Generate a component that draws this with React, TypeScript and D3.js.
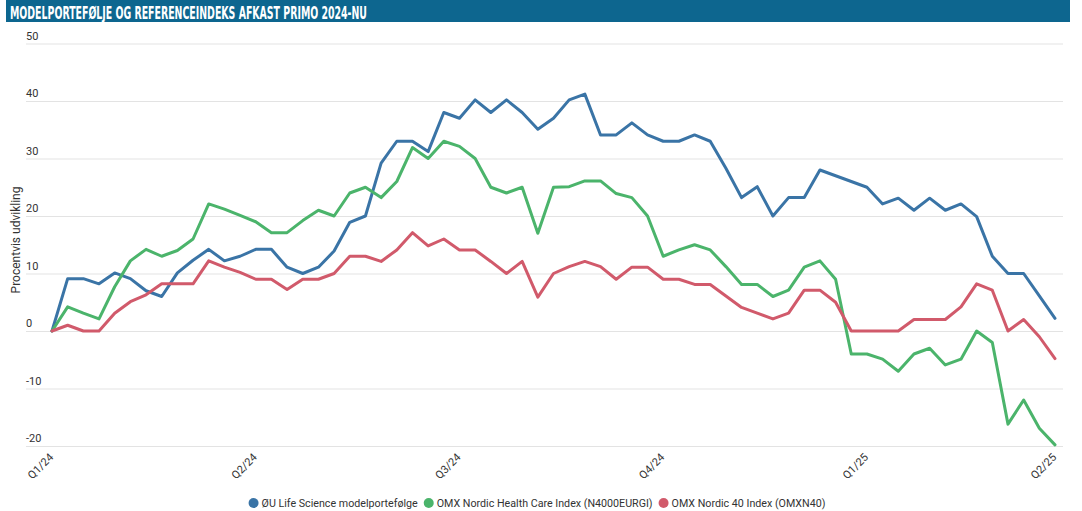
import * as d3 from 'd3';
import React, { useEffect, useRef } from 'react';

// weekly observations, Q1/24 -> Q2/25 (percent change since start)
const blueValues = [
  0, 9.1, 9.1, 8.2, 10.1, 9.1, 7.0, 6.0, 10.1, 12.3,
  14.2, 12.2, 13.0, 14.2, 14.2, 11.1, 10.0, 11.1, 13.9, 18.9,
  20.0, 29.2, 33.0, 33.0, 31.2, 38.0, 37.0, 40.2, 38.0, 40.2,
  38.0, 35.1, 37.0, 40.2, 41.2, 34.1, 34.1, 36.2, 34.1, 33.0,
  33.0, 34.1, 33.0, 28.3, 23.2, 25.1, 20.0, 23.2, 23.2, 28.0,
  27.0, 26.0, 25.0, 22.1, 23.1, 21.0, 23.1, 21.0, 22.1, 19.9,
  13.0, 10.0, 10.0, 6.1, 2.2,
];
const greenValues = [
  0, 4.2, 3.1, 2.1, 7.7, 12.2, 14.2, 13.0, 14.0, 16.0,
  22.1, 21.2, 20.1, 19.0, 17.1, 17.1, 19.2, 21.0, 20.0, 24.0,
  25.0, 23.2, 26.0, 31.9, 30.0, 33.0, 32.1, 30.0, 25.0, 24.0,
  25.0, 17.0, 25.0, 25.1, 26.1, 26.1, 23.9, 23.2, 20.0, 13.0,
  14.1, 15.0, 14.1, 11.2, 8.1, 8.1, 6.0, 7.1, 11.1, 12.2,
  9.0, -4.0, -4.0, -4.9, -7.0, -4.0, -3.0, -5.9, -4.9, 0,
  -2.0, -16.2, -12.0, -16.9, -19.8,
];
const redValues = [
  0, 1.0, 0, 0, 3.1, 5.1, 6.3, 8.2, 8.2, 8.2,
  12.2, 11.1, 10.2, 9.0, 9.0, 7.2, 9.0, 9.0, 10.0, 13.0,
  13.0, 12.1, 14.1, 17.1, 14.8, 16.0, 14.1, 14.1, 12.1, 10.0,
  12.1, 5.9, 10.0, 11.2, 12.1, 11.2, 9.0, 11.1, 11.1, 9.0,
  9.0, 8.1, 8.1, 6.1, 4.1, 3.1, 2.1, 3.1, 7.1, 7.1,
  5.0, 0, 0, 0, 0, 2.0, 2.0, 2.0, 4.2, 8.2,
  7.1, 0, 2.0, -1.0, -4.8,
];

const seriesNames = [
  'ØU Life Science modelportefølge',
  'OMX Nordic Health Care Index (N4000EURGI)',
  'OMX Nordic 40 Index (OMXN40)',
];
const seriesColors = ['#3a74a6', '#4bb46b', '#d15a6b'];

const quarterIndex = [0, 13, 26, 39, 52, 64];
const quarterLabels = ['Q1/24', 'Q2/24', 'Q3/24', 'Q4/24', 'Q1/25', 'Q2/25'];
const yTicks = [50, 40, 30, 20, 10, 0, -10, -20];

const title = 'MODELPORTEFØLJE OG REFERENCEINDEKS AFKAST PRIMO 2024-NU';
const yTitle = 'Procentvis udvikling';

const width = 1082;
const height = 511;

export default function App() {
  const node = useRef<SVGSVGElement>(null);

  useEffect(() => {
    const svg = d3.select(node.current);
    svg.selectAll('*').remove();

    const font = 'Roboto, "Noto Sans", sans-serif';

    const x = d3.scaleLinear().domain([0, blueValues.length - 1]).range([52, 1055]);
    const y = d3.scaleLinear().domain([-20, 50]).range([446, 43.5]);

    // header bar
    svg.append('rect')
      .attr('x', 6).attr('y', 0)
      .attr('width', 1064).attr('height', 22)
      .attr('fill', '#0d668f');
    svg.append('text')
      .attr('x', 10).attr('y', 18.5)
      .attr('fill', '#fff')
      .attr('font-family', '"Liberation Sans Narrow", "DejaVu Sans Condensed", sans-serif')
      .attr('font-weight', 'bold')
      .attr('font-size', 18)
      .attr('textLength', 357)
      .attr('lengthAdjust', 'spacingAndGlyphs')
      .text(title);

    // grid + y labels
    const grid = svg.append('g');
    grid.selectAll('line')
      .data(yTicks)
      .enter()
      .append('line')
      .attr('x1', 26).attr('x2', 1063)
      .attr('y1', (d) => y(d) + 0.5).attr('y2', (d) => y(d) + 0.5)
      .attr('stroke', '#e3e3e3')
      .attr('stroke-width', 1);
    grid.selectAll('text')
      .data(yTicks)
      .enter()
      .append('text')
      .attr('x', 26)
      .attr('y', (d) => y(d) - 4)
      .attr('font-family', font)
      .attr('font-size', 11)
      .attr('fill', '#333')
      .text((d) => String(d));

    svg.append('text')
      .attr('transform', 'translate(20,240) rotate(-90)')
      .attr('text-anchor', 'middle')
      .attr('font-family', font)
      .attr('font-size', 12)
      .attr('fill', '#333')
      .text(yTitle);

    // x labels
    svg.append('g')
      .selectAll('text')
      .data(quarterIndex)
      .enter()
      .append('text')
      .attr('transform', (d) => 'translate(' + (x(d) + 2) + ',458) rotate(-45)')
      .attr('text-anchor', 'end')
      .attr('font-family', font)
      .attr('font-size', 11)
      .attr('fill', '#333')
      .text((d, i) => quarterLabels[i]);

    // lines
    const line = d3.line<number>()
      .x((d, i) => x(i))
      .y((d) => y(d));

    [blueValues, greenValues, redValues].forEach((values, k) => {
      svg.append('path')
        .attr('d', line(values))
        .attr('fill', 'none')
        .attr('stroke', seriesColors[k])
        .attr('stroke-width', 3)
        .attr('stroke-linejoin', 'round')
        .attr('stroke-linecap', 'round');
    });

    // legend
    const legend = svg.append('g');
    let cx = 0;
    seriesNames.forEach((name, k) => {
      legend.append('circle')
        .attr('cx', cx).attr('cy', 503).attr('r', 5)
        .attr('fill', seriesColors[k]);
      const t = legend.append('text')
        .attr('x', cx + 8).attr('y', 507)
        .attr('font-family', font)
        .attr('font-size', 10.7)
        .attr('fill', '#333')
        .text(name);
      const w = (t.node() as SVGTextElement).getComputedTextLength();
      cx = cx + 8 + w + 11;
    });
    const total = cx - 11 + 5;
    legend.attr('transform', 'translate(' + (537 - total / 2 + 5) + ',0)');
  }, []);

  return (
    <svg
      ref={node}
      width={width}
      height={height}
      style={{ position: 'absolute', left: 0, top: 0, background: '#fff' }}
    />
  );
}
